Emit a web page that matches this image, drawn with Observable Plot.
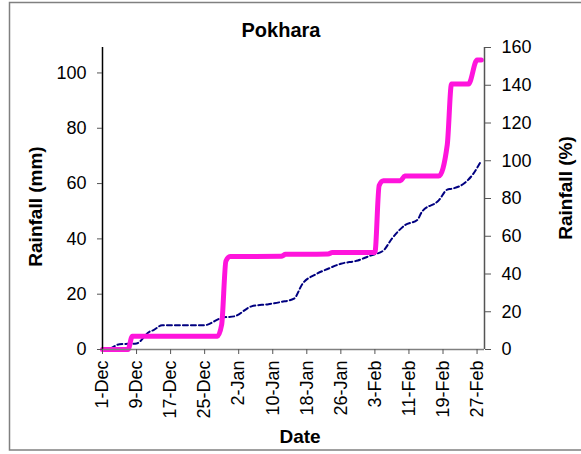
<!DOCTYPE html>
<html><head><meta charset="utf-8">
<script src="https://cdn.jsdelivr.net/npm/d3@7"></script>
<script src="https://cdn.jsdelivr.net/npm/@observablehq/plot@0.6"></script>
<style>body{margin:0;background:#fff}#chart{width:581px;height:454px;overflow:hidden}</style>
</head><body><div id="chart"></div>
<script>
// Observed cumulative rainfall (mm) - magenta line
const obsDates = ["2007-12-01","2007-12-07","2007-12-08","2007-12-28","2007-12-29","2007-12-30","2007-12-31",
  "2008-01-12","2008-01-13","2008-01-23","2008-01-24","2008-02-03","2008-02-04","2008-02-05","2008-02-09",
  "2008-02-10","2008-02-18","2008-02-20","2008-02-21","2008-02-25","2008-02-27","2008-02-28"];
const obsValues = [0,0,4.8,4.8,9,32,33.6,33.7,34.4,34.5,35.1,35.1,59.3,61,61,62.7,62.7,74,96,96,104.7,104.7];

// Normal cumulative rainfall (mm) - dashed navy line
const normDates = ["2007-12-01","2007-12-02","2007-12-05","2007-12-09","2007-12-12","2007-12-13","2007-12-15",
  "2007-12-25","2007-12-28","2007-12-29","2008-01-01","2008-01-05","2008-01-09","2008-01-12","2008-01-15",
  "2008-01-17","2008-01-20","2008-01-23","2008-01-26","2008-01-30","2008-02-02","2008-02-05","2008-02-07",
  "2008-02-10","2008-02-13","2008-02-14","2008-02-18","2008-02-20","2008-02-21","2008-02-24","2008-02-26","2008-02-28"];
const normValues = [0,0,1.9,2.2,6.4,7,8.8,8.8,10.8,11.5,12,15.6,16.4,17.2,18.4,23.8,27.1,29.2,31,32.2,34,35.8,
  40.1,44.9,46.9,49.7,53.9,57.8,58.1,60.1,63.3,68.3];

const xTickDates = ["2007-12-01","2007-12-09","2007-12-17","2007-12-25","2008-01-02","2008-01-10",
  "2008-01-18","2008-01-26","2008-02-03","2008-02-11","2008-02-19","2008-02-27"];
const xTickLabels = ["1-Dec","9-Dec","17-Dec","25-Dec","2-Jan","10-Jan","18-Jan","26-Jan","3-Feb","11-Feb","19-Feb","27-Feb"];
const leftTicks = [0,20,40,60,80,100];
const rightTicks = [0,20,40,60,80,100,120,140,160];
const leftMax = 109.2, rightMax = 160;

const parse = s => new Date(s + "T00:00:00Z");
const obs = obsDates.map((d,i) => ({date: parse(d), v: obsValues[i]}));
const norm = normDates.map((d,i) => ({date: parse(d), v: normValues[i]}));
const tickDates = xTickDates.map(parse);
const k = leftMax / rightMax;
const x0 = parse("2007-12-01");
const x1 = new Date(+x0 + 89.75 * 864e5);
const font = "Arial, 'Liberation Sans', sans-serif";

const chart = Plot.plot({
  width: 581, height: 454,
  marginTop: 47, marginBottom: 105, marginLeft: 102, marginRight: 97,
  style: {fontFamily: font, fontSize: "18px", color: "#000", background: "#fff"},
  x: {type: "utc", domain: [x0, x1], axis: null},
  y: {domain: [0, leftMax], axis: null},
  marks: [
    Plot.lineY(norm, {x: "date", y: "v", stroke: "#000080", strokeWidth: 2, strokeDasharray: "5,3", curve: "monotone-x"}),
    Plot.lineY(obs, {x: "date", y: "v", stroke: "#ff14dc", strokeWidth: 5, curve: "monotone-x"}),
    Plot.ruleX([x0], {stroke: "#000", strokeWidth: 1.5}),
    Plot.ruleX([x1], {stroke: "#555", strokeWidth: 1.5}),
    Plot.ruleY([0], {stroke: "#808080", strokeWidth: 1.5}),
    Plot.axisY(leftTicks, {anchor: "left", tickSize: 5, tickPadding: 11, fontSize: 18, label: null, stroke: "#555"}),
    Plot.axisY(rightTicks.map(p => p * k), {anchor: "right", tickSize: 6, tickPadding: 11, fontSize: 18, label: null,
      stroke: "#555", tickFormat: d => String(Math.round(d / k))}),
    Plot.axisX(tickDates, {anchor: "bottom", tickSize: 5, tickPadding: 6, tickRotate: -90, fontSize: 18, label: null,
      stroke: "#555", tickFormat: d => xTickLabels[tickDates.findIndex(t => +t === +d)]})
  ]
});
document.getElementById("chart").appendChild(chart);

const svg = d3.select(chart);
svg.append("rect").attr("x", 9.5).attr("y", 2.5).attr("width", 620).attr("height", 447.5)
  .attr("fill", "none").attr("stroke", "#808080").attr("stroke-width", 1.5);
svg.append("text").attr("x", 281).attr("y", 37).attr("text-anchor", "middle")
  .attr("font-family", font).attr("font-weight", "bold").attr("font-size", 20).text("Pokhara");
svg.append("text").attr("transform", "translate(42,206.5) rotate(-90)").attr("text-anchor", "middle")
  .attr("font-family", font).attr("font-weight", "bold").attr("font-size", 19).text("Rainfall (mm)");
svg.append("text").attr("transform", "translate(572,188) rotate(-90)").attr("text-anchor", "middle")
  .attr("font-family", font).attr("font-weight", "bold").attr("font-size", 19).text("Rainfall (%)");
svg.append("text").attr("x", 300).attr("y", 443).attr("text-anchor", "middle")
  .attr("font-family", font).attr("font-weight", "bold").attr("font-size", 19).text("Date");
</script></body></html>
